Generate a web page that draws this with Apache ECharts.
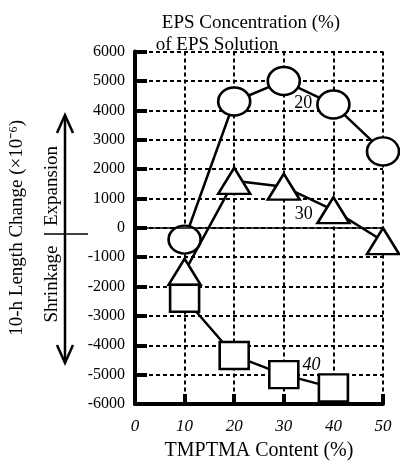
<!DOCTYPE html>
<html><head><meta charset="utf-8">
<script src="https://cdn.jsdelivr.net/npm/echarts@6/dist/echarts.min.js"></script>
<style>html,body{margin:0;padding:0;background:#fff}#c{width:400px;height:466px}</style>
</head><body><div id="c"></div>
<script>
// TMPTMA content (%) categories
const tmptma = [10, 20, 30, 40, 50];
// 10-h length change (x10^-6) by EPS concentration of EPS solution
const eps20 = [-400, 4300, 5000, 4200, 2600];
const eps30 = [-1500, 1600, 1400, 600, -450];
const eps40 = [-2400, -4350, -5000, -5450];
const seriesNames = ['20', '30', '40'];
const yTitle = '10-h Length Change (\u00D710\u207B\u2076)';
const xTitle = 'TMPTMA Content (%)';

const FONT = "'Liberation Serif','Times New Roman',serif";
const pairs = (vals) => vals.map((v, i) => [tmptma[i], v]);

const chart = echarts.init(document.getElementById('c'), null, {renderer: 'canvas'});

const lineSeries = (name, vals, symbol, size, labelCoord) => ({
  name: name,
  type: 'line',
  data: pairs(vals),
  symbol: symbol,
  symbolSize: size,
  showAllSymbol: true,
  lineStyle: {color: '#000', width: 2.5},
  itemStyle: {color: '#fff', borderColor: '#000', borderWidth: 2.5},
  emphasis: {disabled: true},
  animation: false,
  markPoint: {
    silent: true,
    symbol: 'circle', symbolSize: 1,
    itemStyle: {color: 'rgba(0,0,0,0)'},
    label: {show: true, position: 'inside', formatter: name, color: '#000',
            fontFamily: FONT, fontSize: 18, fontStyle: name === '40' ? 'italic' : 'normal'},
    data: [{coord: labelCoord}]
  }
});

const s20 = lineSeries(seriesNames[0], eps20, 'circle', [32, 28], [33.9, 4240]);
s20.markLine = {
  silent: true, symbol: 'none', animation: false,
  lineStyle: {color: '#000', width: 1.5, type: 'solid'},
  label: {show: false},
  data: [{yAxis: 0}]
};

chart.setOption({
  animation: false,
  backgroundColor: '#fff',
  grid: {left: 130, right: 17, top: 51.6, bottom: 50, containLabel: false},
  xAxis: {
    type: 'value', min: 0, max: 50, interval: 10,
    name: xTitle, nameLocation: 'middle', nameGap: 37,
    nameTextStyle: {fontFamily: FONT, fontSize: 20, color: '#000'},
    axisLine: {show: true, onZero: false, lineStyle: {color: '#000', width: 4}},
    axisTick: {show: true, inside: true, length: 10, lineStyle: {color: '#000', width: 4}},
    axisLabel: {color: '#000', fontFamily: FONT, fontSize: 17, fontStyle: 'italic', margin: 14,
                formatter: (v) => String(v)},
    splitLine: {show: true, lineStyle: {color: '#000', width: 2, type: [4, 3]}}
  },
  yAxis: {
    type: 'value', min: -6000, max: 6000, interval: 1000,
    name: yTitle, nameLocation: 'middle', nameGap: 108, nameRotate: 90,
    nameTextStyle: {fontFamily: FONT, fontSize: 19, color: '#000'},
    axisLine: {show: true, onZero: false, lineStyle: {color: '#000', width: 4}},
    axisTick: {show: true, inside: true, length: 12, lineStyle: {color: '#000', width: 4}},
    axisLabel: {color: '#000', fontFamily: FONT, fontSize: 16, margin: 10,
                formatter: (v) => String(v)},
    splitLine: {show: true, lineStyle: {color: '#000', width: 2, type: [4, 3]}}
  },
  series: [
    s20,
    lineSeries(seriesNames[1], eps30, 'triangle', [32, 26], [34.0, 460]),
    lineSeries(seriesNames[2], eps40, 'rect', [29, 27], [35.6, -4670])
  ],
  graphic: [
    {type: 'text', z: 10,
     style: {text: 'EPS Concentration (%)', x: 251, y: 23, textAlign: 'center', textVerticalAlign: 'middle',
             font: '19px ' + FONT, fill: '#000'}},
    {type: 'text', z: 10,
     style: {text: 'of EPS Solution', x: 217, y: 45, textAlign: 'center', textVerticalAlign: 'middle',
             font: '19px ' + FONT, fill: '#000'}},
    // expansion / shrinkage arrow annotation
    {type: 'line', shape: {x1: 65, y1: 116, x2: 65, y2: 362}, style: {stroke: '#000', lineWidth: 2.5}},
    {type: 'polyline', shape: {points: [[57, 133], [65, 115], [73, 133]]}, style: {stroke: '#000', lineWidth: 2.5, fill: null}},
    {type: 'polyline', shape: {points: [[57, 345], [65, 363], [73, 345]]}, style: {stroke: '#000', lineWidth: 2.5, fill: null}},
    {type: 'line', shape: {x1: 44, y1: 234, x2: 88, y2: 234}, style: {stroke: '#000', lineWidth: 1.5}},
    {type: 'text', x: 52, y: 186, rotation: Math.PI / 2,
     style: {text: 'Expansion', x: 0, y: 0, textAlign: 'center', textVerticalAlign: 'middle', font: '19px ' + FONT, fill: '#000'}},
    {type: 'text', x: 52, y: 284, rotation: Math.PI / 2,
     style: {text: 'Shrinkage', x: 0, y: 0, textAlign: 'center', textVerticalAlign: 'middle', font: '19px ' + FONT, fill: '#000'}}
  ]
});
</script></body></html>
